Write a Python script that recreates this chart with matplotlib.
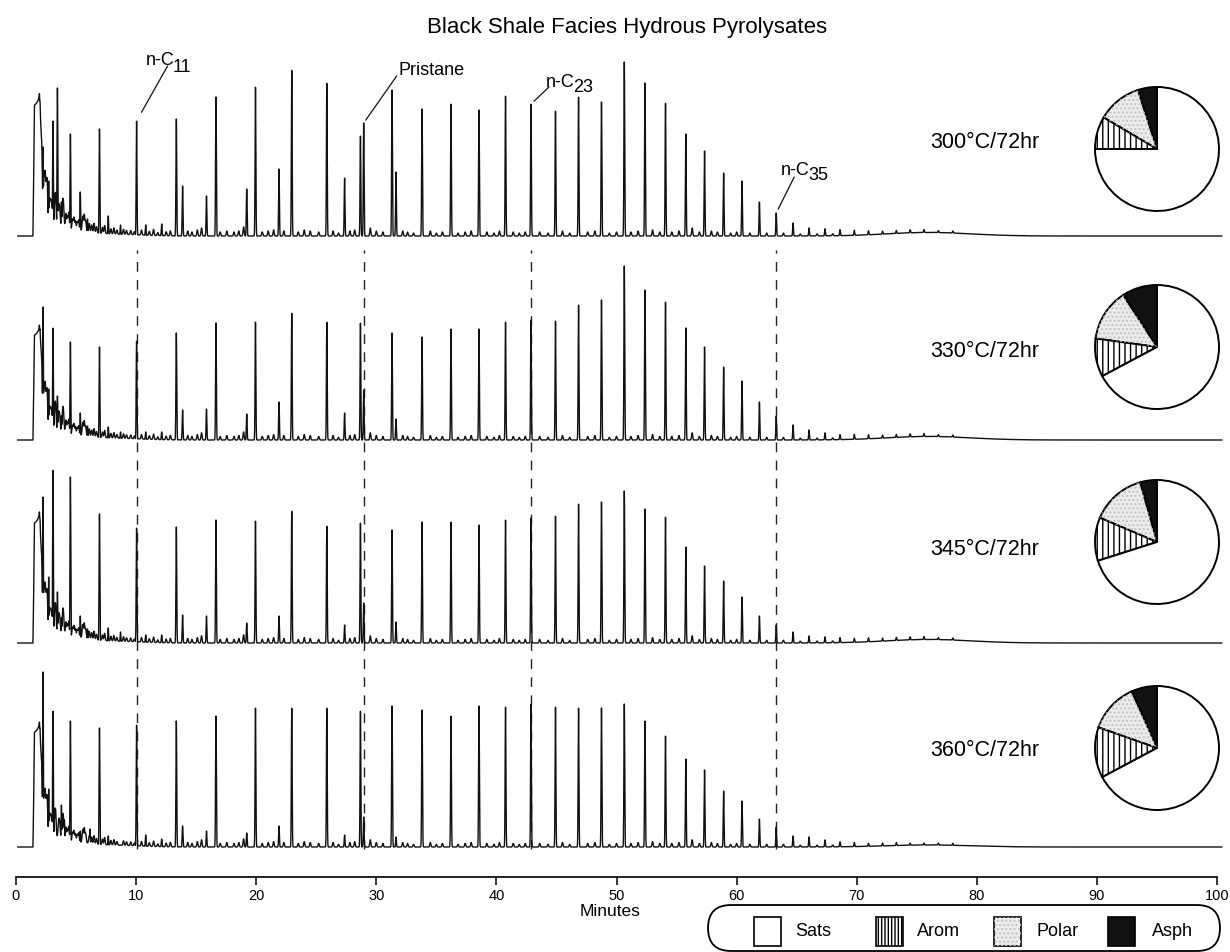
import numpy as np
import matplotlib
matplotlib.use("Agg")
import matplotlib.pyplot as plt
from matplotlib.patches import Wedge, FancyBboxPatch, Rectangle

plt.rcParams["font.family"] = ["Liberation Sans", "DejaVu Sans"]
plt.rcParams["hatch.linewidth"] = 1.0

# ---------------------------------------------------------------- data
conditions = ["300°C/72hr", "330°C/72hr", "345°C/72hr", "360°C/72hr"]

# bulk composition of each pyrolysate (wt %)
fraction_names = ["Sats", "Arom", "Polar", "Asph"]
sats = [75.0, 67.2, 70.1, 67.2]
arom = [8.5, 10.0, 11.3, 13.2]
polar = [11.5, 13.6, 14.2, 12.9]
asph = [5.0, 9.2, 4.4, 6.7]

# solvent front height (detector units)
solvent_h = [130, 104, 119, 114]
solvent_t = [1.40, 1.47, 1.53, 1.95, 2.00, 2.05, 2.12, 2.25, 2.40]
solvent_shape = [0.0, 0.4, 1.0, 1.0, 0.8, 0.45, 0.2, 0.08, 0.0]

# light ends eluting before n-C11 (minutes / detector units)
early_rt = [2.10, 2.25, 2.72, 3.08, 3.45, 3.78, 4.03, 4.53, 5.35, 5.95, 6.16, 6.95, 7.68, 8.70]
early_h = [
    [0, 89, 55, 115, 148, 34, 0, 102, 44, 17, 0, 107, 20, 11],
    [59, 133, 51, 112, 44, 24, 0, 98, 27, 14, 0, 93, 13, 8],
    [92, 146, 66, 173, 51, 25, 0, 166, 27, 14, 0, 129, 15, 11],
    [58, 175, 58, 136, 0, 42, 27, 126, 16, 0, 18, 119, 11, 0],
]

# n-alkanes n-C11 ... n-C47
alkane_carbon = list(range(11, 48))
alkane_rt = [10.04, 13.35, 16.65, 19.94, 22.96, 25.88, 28.68, 31.31, 33.81, 36.22,
             38.55, 40.76, 42.88, 44.92, 46.84, 48.75, 50.65, 52.37, 54.08, 55.77,
             57.33, 58.92, 60.45, 61.90, 63.30, 64.70, 66.03, 67.36, 68.61, 69.80,
             70.98, 72.15, 73.30, 74.45, 75.60, 76.80, 78.00]
alkane_h = [
    [115, 117, 139, 149, 166, 153, 100, 146, 127, 132, 126, 140, 132, 125, 139, 134, 174, 153, 133, 102,
     85, 63, 55, 34, 23, 13, 8, 7, 6, 5, 4, 3, 3, 3, 3, 2, 2],
    [99, 107, 117, 118, 127, 118, 117, 107, 103, 111, 111, 118, 120, 119, 135, 140, 174, 150, 138, 112,
     93, 73, 59, 38, 24, 15, 10, 7, 5, 5, 4, 3, 3, 3, 3, 2, 2],
    [115, 116, 123, 122, 132, 117, 120, 113, 121, 121, 118, 123, 125, 127, 139, 141, 152, 134, 126, 96,
     77, 62, 46, 27, 18, 11, 7, 6, 5, 4, 4, 3, 3, 3, 3, 2, 2],
    [122, 126, 131, 139, 139, 139, 136, 141, 137, 131, 141, 140, 143, 140, 139, 139, 143, 126, 111, 88,
     77, 56, 46, 28, 20, 11, 10, 7, 5, 4, 3, 3, 3, 2, 2, 2, 2],
]

# isoprenoids
pristane_rt, phytane_rt = 28.95, 31.64
pristane_h = [113, 50, 40, 30]
phytane_h = [64, 21, 21, 10]

# other resolved compounds
other_rt = [10.80, 12.13, 13.87, 15.86, 19.21, 21.90, 27.36]
other_h = [
    [11, 12, 50, 40, 47, 67, 58],
    [8, 8, 30, 31, 26, 38, 27],
    [8, 8, 28, 27, 20, 27, 18],
    [12, 8, 21, 16, 14, 21, 12],
]

# small background peaks
bg_rt = [2.05, 2.14, 2.32, 2.42, 2.52, 2.60, 2.80, 2.90, 3.00, 3.22,
         3.30, 3.55, 3.64, 3.88, 3.96, 4.15, 4.28, 4.40, 4.70, 4.82,
         4.95, 5.10, 5.22, 5.55, 5.68, 5.80, 6.10, 6.30, 6.50, 6.70,
         7.20, 7.38, 7.90, 8.15, 8.40, 8.95, 9.20, 9.55, 9.85, 10.45,
         11.10, 11.45, 11.80, 12.50, 12.85, 14.30, 14.65, 15.10, 15.45, 17.00,
         17.55, 18.15, 18.55, 18.95, 20.50, 21.00, 21.45, 22.30, 23.50, 24.00,
         24.50, 25.20, 26.40, 26.85, 27.80, 28.20, 29.50, 30.00, 30.55, 32.20,
         32.60, 33.10, 34.50, 35.00, 35.50, 36.80, 37.40, 37.90, 39.20, 39.80,
         40.25, 41.40, 41.90, 42.40, 43.60, 44.30, 45.50, 46.10, 47.60, 48.20,
         49.40, 50.00, 51.20, 51.80, 53.00, 53.60, 54.60, 55.20, 56.30, 56.90,
         57.90, 58.40, 59.50, 60.00, 61.10, 62.50, 63.90, 65.30, 66.70, 68.00]
bg_h = [36, 50, 30, 42, 28, 34, 24, 22, 18, 20,
        26, 18, 15, 22, 19, 14, 12, 16, 10, 12,
        9, 8, 10, 14, 16, 10, 8, 7, 9, 6,
        6, 8, 5, 6, 4, 5, 4, 4, 3, 5,
        4, 6, 3, 4, 5, 5, 4, 6, 8, 4,
        5, 4, 5, 9, 4, 5, 6, 5, 4, 6,
        5, 4, 5, 3, 5, 6, 8, 5, 4, 5,
        4, 3, 5, 3, 4, 3, 4, 5, 4, 3,
        5, 4, 3, 4, 4, 3, 5, 3, 4, 5,
        3, 4, 4, 5, 6, 4, 4, 5, 8, 4,
        5, 4, 3, 4, 3, 3, 3, 2, 2, 2]
bg_scale = [1.0, 0.9, 0.9, 0.9]

# unresolved humps in the light end (centre, width in minutes) and their heights
hump_rt = [2.3, 3.3, 4.8, 7.5]
hump_w = [0.3, 0.6, 1.2, 2.5]
hump_h = [
    [16, 9, 5, 2],
    [14, 8, 4, 2],
    [16, 9, 5, 2],
    [14, 8, 4, 2],
]

# late baseline rise (column bleed) under the heavy end
drift_rt, drift_w = 76.0, 3.5
drift_h = [3.5, 3.5, 3.5, 2.0]

xticks = [0, 10, 20, 30, 40, 50, 60, 70, 80, 90, 100]

# ---------------------------------------------------------------- layout (pixels)
W, H = 1230, 953
fig = plt.figure(figsize=(W / 100, H / 100), dpi=100)

AX_L, AX_R, AX_B, AX_T = 16, 1217, 878, 38
ax = fig.add_axes([AX_L / W, 1 - AX_B / H, (AX_R - AX_L) / W, (AX_B - AX_T) / H])
ax.set_xlim(0, 100)
ax.set_ylim(0, AX_B - AX_T)
ax.patch.set_alpha(0)

trace_base = [641, 437, 234, 30]
LEAD_DROP = 6

t = np.arange(0.15, 100.4, 0.004)


def peak(center, sigma):
    return np.exp(-0.5 * ((t - center) / sigma) ** 2)


for i in range(4):
    # baseline: lead-in, solvent front, unresolved humps and background grass
    base = np.where(t < 1.42, -LEAD_DROP, 0.0)
    base = base + solvent_h[i] * np.interp(t, solvent_t, solvent_shape)
    for c, w, h in zip(hump_rt, hump_w, hump_h[i]):
        base = base + h * peak(c, w)
    for c, h in zip(bg_rt, bg_h):
        base = base + bg_scale[i] * h * peak(c, 0.045)
    # resolved peaks: each reaches its own stated height above the baseline
    resolved = np.zeros_like(t)
    comps = (list(zip(early_rt, early_h[i])) + list(zip(other_rt, other_h[i])) +
             list(zip(alkane_rt, alkane_h[i])) +
             [(pristane_rt, pristane_h[i]), (phytane_rt, phytane_h[i])])
    for c, h in comps:
        resolved = np.maximum(resolved, h * peak(c, 0.032))
    drift = drift_h[i] * peak(drift_rt, drift_w)
    y = np.maximum(base, resolved) + drift
    ax.plot(t, trace_base[i] + y, color="#111111", lw=1.0, clip_on=False, zorder=3)

# dashed marker lines through the four traces
marker_rt = [alkane_rt[alkane_carbon.index(11)], pristane_rt,
             alkane_rt[alkane_carbon.index(23)], alkane_rt[alkane_carbon.index(35)]]
for rt in marker_rt:
    ax.plot([rt, rt], [trace_base[3] - 2, trace_base[0] - 14], color="#222222", lw=1.0,
            dashes=(7, 6), zorder=2)

# peak labels on the top trace
labels = [
    (marker_rt[0], alkane_h[0][0], "n-C", "11", (9, 57), (36, 50), (31, 55), 7.2),
    (pristane_rt, pristane_h[0], "Pristane", None, (35, 49), None, (33, 47), 2.5),
    (marker_rt[2], alkane_h[0][alkane_carbon.index(23)], "n-C", "23", (15, 18), (42, 13), (18, 17), 3.0),
    (marker_rt[3], alkane_h[0][alkane_carbon.index(35)], "n-C", "35", (5, 39), (32, 34), (18, 36), 3.0),
]
for rt, h, txt, sub, toff, soff, loff, shrink in labels:
    xy = (rt, trace_base[0] + h)
    ax.annotate("", xy=xy, xytext=loff, textcoords="offset pixels",
                arrowprops=dict(arrowstyle="-", color="#111111", lw=0.9, shrinkA=0, shrinkB=shrink))
    ax.annotate(txt, xy=xy, xytext=toff, textcoords="offset pixels",
                ha="left", va="baseline", fontsize=13)
    if sub:
        ax.annotate(sub, xy=xy, xytext=soff, textcoords="offset pixels",
                    ha="left", va="baseline", fontsize=13)

# x axis
for s in ["left", "right", "top"]:
    ax.spines[s].set_visible(False)
ax.spines["bottom"].set_linewidth(1.2)
ax.set_yticks([])
ax.set_xticks(xticks)
ax.tick_params(axis="x", direction="out", length=6, width=1.1, pad=2, labelsize=10.5)

# ---------------------------------------------------------------- overlay (pixel coordinates)
lax = fig.add_axes([0, 0, 1, 1], zorder=5)
lax.set_xlim(0, W)
lax.set_ylim(H, 0)
lax.axis("off")

lax.text(627, 28, "Black Shale Facies Hydrous Pyrolysates", ha="center", va="center", fontsize=16)
lax.text(610, 912, "Minutes", ha="center", va="center", fontsize=12.5)

label_y = [143, 352, 550, 751]
for cond, yy in zip(conditions, label_y):
    lax.text(930, yy, cond, ha="left", va="center", fontsize=15.5)

# legend
lax.add_patch(FancyBboxPatch((708, 906), 512, 46, boxstyle="round,pad=0,rounding_size=23",
                             fc="white", ec="black", lw=1.3))
leg_box_x = [754, 876, 994, 1108]
leg_text_x = [795, 917, 1036, 1152]
for k, name in enumerate(fraction_names):
    bx = leg_box_x[k]
    if name == "Sats":
        lax.add_patch(Rectangle((bx, 918), 27, 29, fc="white", ec="black", lw=1.2))
    elif name == "Arom":
        lax.add_patch(Rectangle((bx, 918), 27, 29, fc="white", ec="black", lw=1.2, hatch="|||||"))
    elif name == "Polar":
        lax.add_patch(Rectangle((bx, 918), 27, 29, fc="#ececec", ec="black", lw=1.2))
        lax.add_patch(Rectangle((bx, 918), 27, 29, fc="none", ec="#c2c2c2", lw=0, hatch="...."))
    else:
        lax.add_patch(Rectangle((bx, 918), 27, 29, fc="#111111", ec="black", lw=1.2))
    lax.text(leg_text_x[k], 932, name, ha="left", va="center", fontsize=13)

# ---------------------------------------------------------------- composition pies
pie_cy = [150, 348, 543, 749]
PIE_CX, PIE_R, PAD = 1157, 62, 2
for i in range(4):
    pax = fig.add_axes([(PIE_CX - PIE_R - PAD) / W, 1 - (pie_cy[i] + PIE_R + PAD) / H,
                        2 * (PIE_R + PAD) / W, 2 * (PIE_R + PAD) / H], zorder=6)
    wedges, _ = pax.pie([asph[i], polar[i], arom[i], sats[i]], startangle=90, counterclock=True,
                        colors=["#111111", "#ececec", "white", "white"],
                        wedgeprops=dict(edgecolor="black", linewidth=1.4))
    wedges[2].set_hatch("|||")
    pw = wedges[1]
    pax.add_patch(Wedge(pw.center, pw.r, pw.theta1, pw.theta2, facecolor="none",
                        edgecolor="#c2c2c2", linewidth=0, hatch="...."))
    lim = 1 + PAD / PIE_R
    pax.set_xlim(-lim, lim)
    pax.set_ylim(-lim, lim)
    pax.set_aspect("equal")
    pax.axis("off")

fig.savefig("out.png", dpi=100)
